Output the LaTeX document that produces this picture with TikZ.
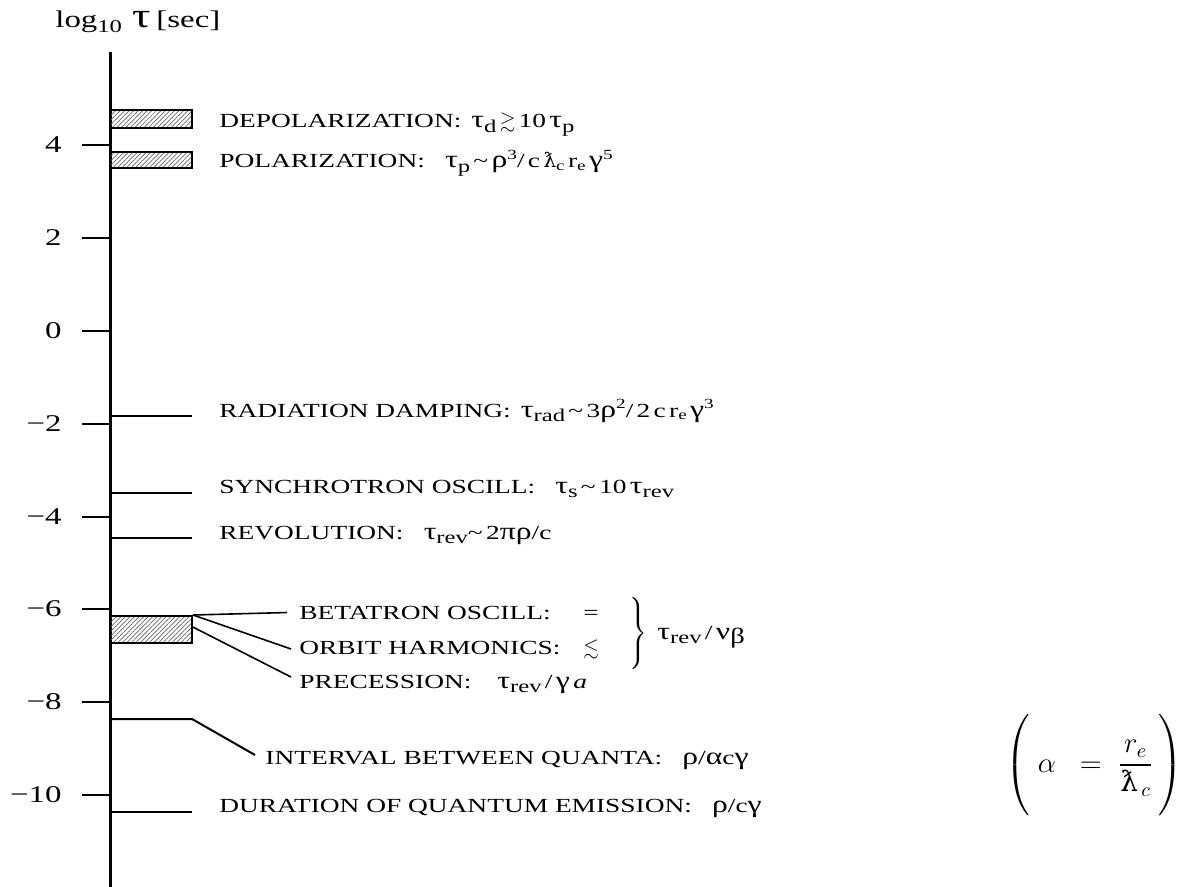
\documentclass[tikz,border=0pt]{standalone}
\usepackage{amsmath,amssymb}
\usepackage{fontspec}
\setmainfont{Liberation Serif}[FakeStretch=1.37]
\newfontfamily\greekfont{Liberation Serif}[Scale=1.22,FakeStretch=1.3]
\newfontfamily\lamfont{DejaVu Serif}
\usetikzlibrary{patterns.meta}
\newcommand{\gk}[1]{{\greekfont #1}}
\newcommand{\lo}[1]{\raisebox{-0.45ex}{\small #1}}
\newcommand{\ls}[1]{\raisebox{-0.3ex}{\scriptsize #1}}
\newcommand{\hi}[1]{\raisebox{0.9ex}{\scriptsize #1}}
\newcommand{\lamc}{{\lamfont ƛ}}
\tikzset{
  axisline/.style={line width=1.5pt},
  tickline/.style={line width=1.2pt},
  markline/.style={line width=1pt},
  leader/.style={line width=.8pt},
  hatchbar/.style={draw,line width=1pt,minimum width=41pt,inner sep=0pt,
    pattern={Lines[angle=45,distance=1.6pt,line width=.35pt]},pattern color=black!60},
  rowlabel/.style={anchor=base west,inner sep=0pt,font=\fontsize{10}{12}\selectfont},
  ticklabel/.style={anchor=east,inner sep=0pt,font=\fontsize{12}{14}\selectfont},
}
\begin{document}
\begin{tikzpicture}[x=.5pt,y=-.5pt]
\useasboundingbox (0,0) rectangle (1187,887);
\node[rowlabel,font=\fontsize{12}{14}\selectfont] (title) at (55,28) {log\lo{10}\hspace{5pt}{\Large\gk{τ}}\hspace{3pt}[sec]};
\coordinate (axtop) at (110,52);
\coordinate (axbot) at (110,887);
\draw[axisline] (axtop) -- (axbot);
% scale
\foreach \v/\y in {4/145,2/238,0/331,−2/424,−4/517,−6/609,−8/702,−10/795} {
  \draw[tickline] (82,\y) -- (110,\y);
  \node[ticklabel] (lab\y) at (62,\y) {\v};
}
% bands
\node[hatchbar,minimum height=9pt] (depolbar) at (151,119) {};
\node[hatchbar,minimum height=8pt] (polbar) at (151,160) {};
\node[hatchbar,minimum height=13.5pt] (betabar) at (151,629.5) {};
% single marks
\foreach \n/\y in {rad/416,syn/493,rev/538,dur/812} {
  \draw[markline] (110,\y) -- (192,\y);
}
\coordinate (ivA) at (110,719);
\coordinate (ivB) at (192,719);
\coordinate (ivC) at (255,755);
\draw[markline] (ivA) -- (ivB) -- (ivC);
% labels
\node[rowlabel] (depol) at (219,128) {DEPOLARIZATION:\enspace \gk{τ}\lo{d}\,$\gtrsim$\,10\,\gk{τ}\lo{p}};
\node[rowlabel] (pol) at (219,168) {POLARIZATION:\enspace\, \gk{τ}\lo{p}\,\textasciitilde\,\gk{ρ}\hi{3}/\,c\,\lamc\ls{c}\,r\ls{e}\,\gk{γ}\hi{5}};
\node[rowlabel] (rad) at (219,417) {RADIATION DAMPING:\enspace \gk{τ}\lo{rad}\,\textasciitilde\,3\gk{ρ}\hi{2}/\,2\,c\,r\ls{e}\,\gk{γ}\hi{3}};
\node[rowlabel] (syn) at (219,493) {SYNCHROTRON OSCILL:\quad \gk{τ}\lo{s}\,\textasciitilde\,10\,\gk{τ}\lo{rev}};
\node[rowlabel] (rev) at (219,539) {REVOLUTION:\enspace\, \gk{τ}\lo{rev}\textasciitilde\,2\gk{πρ}/c};
\node[rowlabel] (beta) at (299,619) {\makebox[142pt][l]{BETATRON OSCILL:}=};
\node[rowlabel] (orbit) at (299,654) {\makebox[142pt][l]{ORBIT HARMONICS:}$\lesssim$};
\node[rowlabel] (prec) at (299,688) {\makebox[99pt][l]{PRECESSION:}\gk{τ}\lo{rev}\,/\,\gk{γ}\,\textit{a}};
\node[rowlabel] (ival) at (265,764) {INTERVAL BETWEEN QUANTA:\quad \gk{ρ}/\gk{α}c\gk{γ}};
\node[rowlabel] (dur) at (219,812) {DURATION OF QUANTUM EMISSION:\quad \gk{ρ}/c\gk{γ}};
\coordinate (precend) at (291,677);
\draw[leader] (betabar.north east) -- ([xshift=-6pt]beta.west);
\draw[leader] (betabar.north east) -- ([xshift=-4pt]orbit.west);
\draw[leader] ([yshift=1.2pt]betabar.east) -- (precend);
\node[font=\boldmath] (brace) at (637,633) {$\left.\rule[-15pt]{0pt}{30pt}\right\}$};
\node[rowlabel] (nuq) at (657,639) {\gk{τ}\lo{rev}\,/\,\gk{ν}\lo{\gk{β}}};
\node[font=\fontsize{14}{16}\selectfont] (alphadef) at (1094,765)
  {$\left(\rule[-21pt]{0pt}{44pt}\;\alpha\;\;=\;\dfrac{r_e}{\mbox{\lamfont ƛ}_{\,c}}\,\right)$};
\end{tikzpicture}
\end{document}
